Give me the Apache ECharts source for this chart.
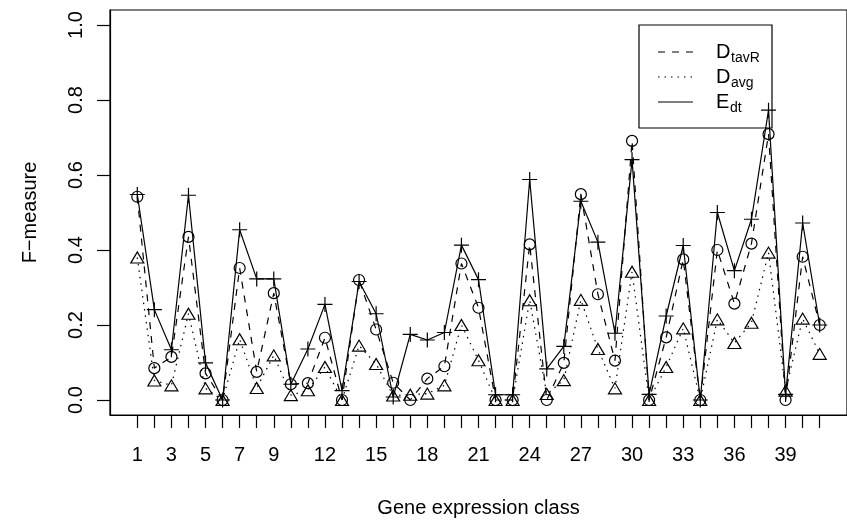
<!DOCTYPE html>
<html>
<head>
<meta charset="utf-8">
<script src="https://cdn.jsdelivr.net/npm/echarts@6/dist/echarts.min.js"></script>
<style>
	html, body { margin: 0; padding: 0; background: #fff; }
	#chart { width: 847px; height: 523px; }
</style>
</head>
<body>
<div id="chart"></div>
<script>
var fontFamily = '"Liberation Sans", Arial, Helvetica, sans-serif';

// gene expression classes
var classes = [1, 2, 3, 4, 5, 6, 7, 8, 9, 10, 11, 12, 13, 14, 15, 16, 17, 18, 19, 20, 21,
	22, 23, 24, 25, 26, 27, 28, 29, 30, 31, 32, 33, 34, 35, 36, 37, 38, 39, 40, 41];
var xLabelValues = [1, 3, 5, 7, 9, 12, 15, 18, 21, 24, 27, 30, 33, 36, 39];
var yTickValues = [0, 0.2, 0.4, 0.6, 0.8, 1.0];

// D_tavR (dashed, circles)
var dTavR = [0.542, 0.085, 0.115, 0.435, 0.071, 0, 0.352, 0.075, 0.285, 0.042, 0.045, 0.166, 0, 0.32,
	0.188, 0.046, 0, 0.057, 0.09, 0.364, 0.246, 0, 0, 0.415, 0, 0.099, 0.549, 0.282, 0.105, 0.691,
	0, 0.167, 0.375, 0, 0.4, 0.257, 0.417, 0.709, 0, 0.382, 0.2];
// D_avg (dotted, triangles)
var dAvg = [0.38, 0.052, 0.039, 0.23, 0.031, 0, 0.162, 0.032, 0.119, 0.013, 0.026, 0.088, 0, 0.145,
	0.096, 0.012, 0.014, 0.017, 0.039, 0.2, 0.106, 0, 0, 0.266, 0.016, 0.053, 0.267, 0.136, 0.031, 0.342,
	0, 0.088, 0.191, 0, 0.215, 0.152, 0.206, 0.393, 0.025, 0.217, 0.123];
// E_dt (solid, plus)
var eDt = [0.548, 0.241, 0.134, 0.546, 0.099, 0, 0.454, 0.323, 0.323, 0.042, 0.136, 0.255, 0.025, 0.316,
	0.23, 0.008, 0.175, 0.16, 0.18, 0.413, 0.321, 0.014, 0.014, 0.588, 0.083, 0.143, 0.53, 0.421, 0.178, 0.641,
	0.015, 0.224, 0.412, 0, 0.5, 0.345, 0.482, 0.773, 0.015, 0.472, 0.2];

function pairs(values) {
	return classes.map(function(c, i) {
		return [c, values[i]];
	});
}

function lineSeries(name, values, dash, symbol, size) {
	return {
		name: name,
		type: 'line',
		data: pairs(values),
		symbol: symbol,
		symbolSize: size,
		showAllSymbol: true,
		lineStyle: { color: '#000', width: 1.2, type: dash },
		itemStyle: { color: 'transparent', borderColor: '#000', borderWidth: 1.2 },
		emphasis: { disabled: true }
	};
}

var chart = echarts.init(document.getElementById('chart'));
chart.setOption({
	animation: false,
	backgroundColor: '#fff',
	textStyle: { fontFamily: fontFamily, color: '#000' },
	grid: {
		left: 110,
		top: 10,
		width: 747,
		height: 409,
		show: true,
		borderColor: '#000',
		borderWidth: 1.2
	},
	xAxis: {
		type: 'value',
		min: -0.6,
		max: 42.6,
		name: 'Gene expression class',
		nameLocation: 'middle',
		nameGap: 83,
		nameTextStyle: { fontSize: 20, fontFamily: fontFamily, color: '#000' },
		axisLine: { show: true, onZero: false, lineStyle: { color: '#000', width: 1.2 } },
		axisTick: { show: true, length: 13, lineStyle: { color: '#000', width: 1.2 }, customValues: classes },
		axisLabel: { fontSize: 20, color: '#000', margin: 30, customValues: xLabelValues },
		splitLine: { show: false }
	},
	yAxis: {
		type: 'value',
		min: -0.04,
		max: 1.04,
		name: 'F\u2212measure',
		nameLocation: 'middle',
		nameGap: 70,
		nameRotate: 90,
		nameTextStyle: { fontSize: 20, fontFamily: fontFamily, color: '#000' },
		axisLine: { show: true, onZero: false, lineStyle: { color: '#000', width: 1.2 } },
		axisTick: { show: true, length: 13, lineStyle: { color: '#000', width: 1.2 }, customValues: yTickValues },
		axisLabel: {
			fontSize: 20,
			color: '#000',
			rotate: 90,
			margin: 24,
			customValues: yTickValues,
			formatter: function(v) { return v.toFixed(1); }
		},
		splitLine: { show: false }
	},
	series: [
		lineSeries('DtavR', dTavR, [7, 7], 'circle', 11),
		lineSeries('Davg', dAvg, [1.5, 5], 'triangle', [13, 11]),
		lineSeries('Edt', eDt, 'solid', 'path://M7,0L7,14M0,7L14,7', 15)
	],
	graphic: [
		{ type: 'rect', z: 100, shape: { x: 639, y: 25, width: 133, height: 103 },
			style: { fill: 'none', stroke: '#000', lineWidth: 1.2 } },
		{ type: 'line', z: 100, shape: { x1: 658, y1: 52, x2: 693, y2: 52 },
			style: { stroke: '#000', lineWidth: 1.2, lineDash: [7, 7] } },
		{ type: 'line', z: 100, shape: { x1: 658, y1: 77, x2: 693, y2: 77 },
			style: { stroke: '#000', lineWidth: 1.2, lineDash: [1.5, 5] } },
		{ type: 'line', z: 100, shape: { x1: 658, y1: 102, x2: 693, y2: 102 },
			style: { stroke: '#000', lineWidth: 1.2 } },
		{ type: 'text', z: 100, x: 716, y: 52, style: { text: 'D', font: '20px ' + fontFamily, fill: '#000', verticalAlign: 'middle' } },
		{ type: 'text', z: 100, x: 731, y: 58, style: { text: 'tavR', font: '14px ' + fontFamily, fill: '#000', verticalAlign: 'middle' } },
		{ type: 'text', z: 100, x: 716, y: 77, style: { text: 'D', font: '20px ' + fontFamily, fill: '#000', verticalAlign: 'middle' } },
		{ type: 'text', z: 100, x: 731, y: 83, style: { text: 'avg', font: '14px ' + fontFamily, fill: '#000', verticalAlign: 'middle' } },
		{ type: 'text', z: 100, x: 716, y: 102, style: { text: 'E', font: '20px ' + fontFamily, fill: '#000', verticalAlign: 'middle' } },
		{ type: 'text', z: 100, x: 730, y: 108, style: { text: 'dt', font: '14px ' + fontFamily, fill: '#000', verticalAlign: 'middle' } }
	]
});
</script>
</body>
</html>
